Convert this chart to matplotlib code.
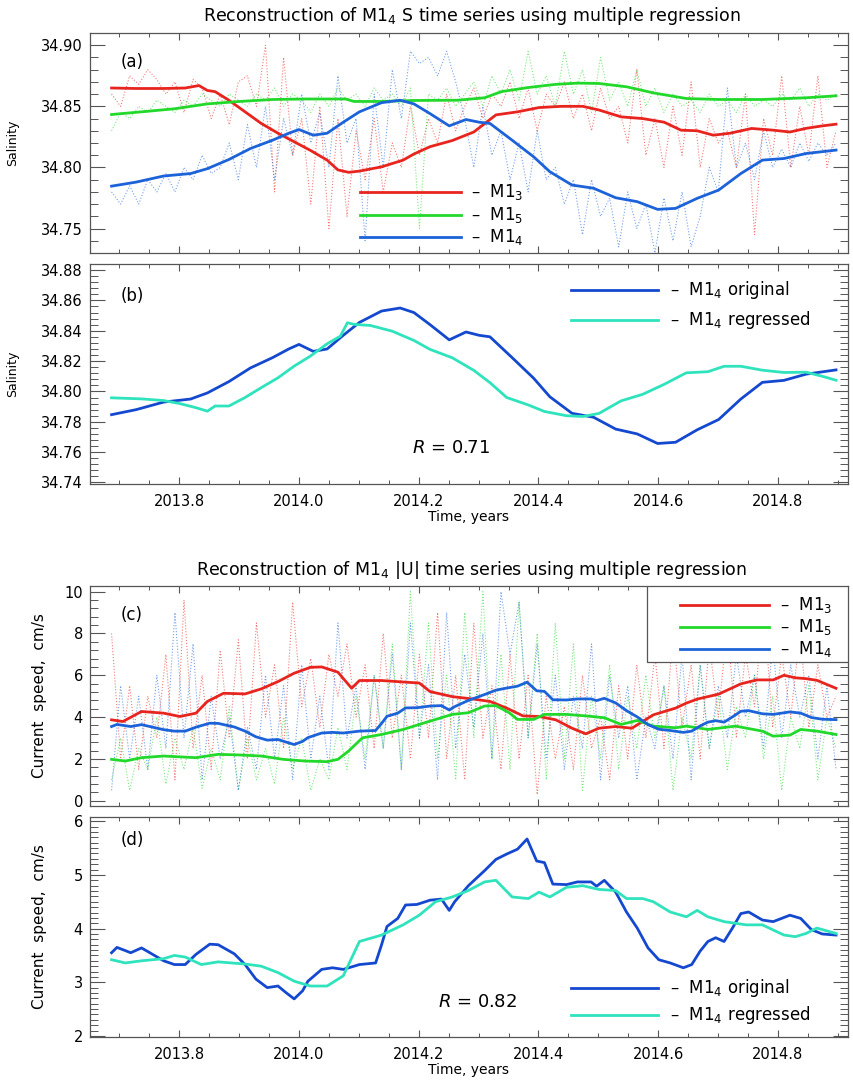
import numpy as np
import matplotlib
matplotlib.use("Agg")
import matplotlib.pyplot as plt
from matplotlib.ticker import MultipleLocator

plt.rcParams["font.family"] = ["DejaVu Sans"]

# ---------------- data ----------------
# panel (a): salinity, smoothed series
t_s_m13 = [2013.687, 2013.728, 2013.774, 2013.810, 2013.833, 2013.847, 2013.860, 2013.883, 2013.910, 2013.937,
           2013.965, 2013.992, 2014.019, 2014.047, 2014.065, 2014.083, 2014.101, 2014.138, 2014.174, 2014.192,
           2014.219, 2014.256, 2014.292, 2014.329, 2014.365, 2014.401, 2014.438, 2014.474, 2014.501, 2014.538,
           2014.574, 2014.610, 2014.638, 2014.665, 2014.692, 2014.720, 2014.756, 2014.792, 2014.820, 2014.847,
           2014.874, 2014.897]
s_m13 = [34.865, 34.8646, 34.8646, 34.865, 34.867, 34.863, 34.862, 34.855, 34.8455, 34.836,
         34.828, 34.821, 34.814, 34.806, 34.798, 34.796, 34.797, 34.8005, 34.806, 34.811,
         34.817, 34.822, 34.829, 34.843, 34.8455, 34.849, 34.850, 34.850, 34.847, 34.8414,
         34.840, 34.837, 34.8305, 34.830, 34.8264, 34.828, 34.8319, 34.8305, 34.829, 34.832,
         34.834, 34.8354]

t_s_m15 = [2013.687, 2013.737, 2013.792, 2013.847, 2013.901, 2013.956, 2014.010, 2014.078, 2014.092, 2014.138,
           2014.192, 2014.265, 2014.310, 2014.338, 2014.383, 2014.429, 2014.465, 2014.501, 2014.547, 2014.592,
           2014.647, 2014.701, 2014.774, 2014.847, 2014.897]
s_m15 = [34.8433, 34.8455, 34.848, 34.852, 34.854, 34.8556, 34.856, 34.856, 34.854, 34.854,
         34.8548, 34.855, 34.857, 34.862, 34.8654, 34.868, 34.869, 34.8687, 34.866, 34.861,
         34.8564, 34.8556, 34.8556, 34.857, 34.8586]

t_s_m14 = [2013.687, 2013.728, 2013.774, 2013.819, 2013.847, 2013.883, 2013.919, 2013.956, 2013.983, 2014.000,
           2014.024, 2014.047, 2014.074, 2014.101, 2014.138, 2014.169, 2014.192, 2014.219, 2014.251, 2014.279,
           2014.301, 2014.319, 2014.356, 2014.392, 2014.419, 2014.456, 2014.492, 2014.529, 2014.565, 2014.599,
           2014.629, 2014.665, 2014.701, 2014.738, 2014.774, 2014.810, 2014.847, 2014.897]
s_m14 = [34.7847, 34.788, 34.793, 34.795, 34.799, 34.8065, 34.8155, 34.8223, 34.828, 34.831,
         34.8264, 34.828, 34.837, 34.8455, 34.853, 34.855, 34.852, 34.844, 34.834, 34.8392,
         34.837, 34.836, 34.8223, 34.8087, 34.7965, 34.7856, 34.783, 34.7752, 34.772, 34.7657,
         34.7665, 34.7747, 34.7815, 34.795, 34.806, 34.8073, 34.8114, 34.8142]

# panel (b): regressed salinity
t_s_reg = [2013.687, 2013.737, 2013.774, 2013.801, 2013.828, 2013.847, 2013.860, 2013.883, 2013.910, 2013.937,
           2013.965, 2013.992, 2014.019, 2014.047, 2014.069, 2014.081, 2014.092, 2014.119, 2014.156, 2014.192,
           2014.219, 2014.256, 2014.292, 2014.319, 2014.347, 2014.383, 2014.410, 2014.447, 2014.474, 2014.501,
           2014.538, 2014.574, 2014.610, 2014.647, 2014.683, 2014.710, 2014.738, 2014.774, 2014.810, 2014.847,
           2014.874, 2014.897]
s_reg = [34.7958, 34.7951, 34.794, 34.792, 34.7893, 34.787, 34.7904, 34.7904, 34.796, 34.8025,
         34.809, 34.8167, 34.8233, 34.8314, 34.8364, 34.8453, 34.8442, 34.8435, 34.8397, 34.8336,
         34.8277, 34.8222, 34.8139, 34.8058, 34.796, 34.7911, 34.7868, 34.784, 34.7835, 34.7855,
         34.7938, 34.7981, 34.8047, 34.8123, 34.813, 34.8166, 34.8166, 34.814, 34.8125, 34.8127,
         34.810, 34.8074]

# raw (unsmoothed) salinity records, dotted
t_raw = np.linspace(2013.687, 2014.897, 81)
s_raw_m13 = [34.86, 34.85, 34.875, 34.868, 34.88, 34.872, 34.86, 34.87, 34.845, 34.872,
             34.865, 34.84, 34.86, 34.835, 34.87, 34.875, 34.85, 34.90, 34.78, 34.89,
             34.81, 34.84, 34.77, 34.85, 34.75, 34.84, 34.76, 34.83, 34.79, 34.84,
             34.78, 34.82, 34.80, 34.85, 34.81, 34.84, 34.82, 34.86, 34.83, 34.85,
             34.865, 34.84, 34.86, 34.85, 34.87, 34.84, 34.865, 34.83, 34.86, 34.85,
             34.87, 34.84, 34.86, 34.83, 34.865, 34.84, 34.85, 34.82, 34.88, 34.81,
             34.84, 34.80, 34.85, 34.81, 34.87, 34.80, 34.84, 34.82, 34.83, 34.80,
             34.86, 34.745, 34.84, 34.81, 34.875, 34.80, 34.85, 34.81, 34.875, 34.80, 34.83]
s_raw_m15 = [34.83, 34.845, 34.84, 34.85, 34.845, 34.855, 34.85, 34.845, 34.855, 34.85,
             34.86, 34.855, 34.85, 34.86, 34.855, 34.85, 34.86, 34.855, 34.865, 34.85,
             34.86, 34.855, 34.845, 34.86, 34.85, 34.865, 34.855, 34.86, 34.85, 34.865,
             34.855, 34.86, 34.85, 34.865, 34.75, 34.86, 34.855, 34.865, 34.85, 34.86,
             34.87, 34.85, 34.875, 34.86, 34.88, 34.855, 34.895, 34.86, 34.875, 34.85,
             34.895, 34.86, 34.88, 34.845, 34.89, 34.855, 34.87, 34.85, 34.88, 34.85,
             34.865, 34.845, 34.86, 34.85, 34.855, 34.845, 34.86, 34.85, 34.855, 34.845,
             34.86, 34.85, 34.855, 34.85, 34.86, 34.855, 34.865, 34.85, 34.86, 34.855, 34.86]
s_raw_m14 = [34.78, 34.77, 34.785, 34.77, 34.79, 34.78, 34.795, 34.78, 34.80, 34.79,
             34.81, 34.795, 34.80, 34.82, 34.79, 34.835, 34.80, 34.85, 34.79, 34.84,
             34.81, 34.86, 34.82, 34.845, 34.80, 34.875, 34.82, 34.84, 34.74, 34.86,
             34.80, 34.88, 34.84, 34.895, 34.885, 34.89, 34.875, 34.895, 34.87, 34.84,
             34.80, 34.85, 34.81, 34.83, 34.79, 34.82, 34.78, 34.83, 34.79, 34.80,
             34.77, 34.79, 34.745, 34.79, 34.76, 34.775, 34.735, 34.78, 34.75, 34.77,
             34.73, 34.775, 34.74, 34.78, 34.735, 34.76, 34.80, 34.78, 34.865, 34.80,
             34.82, 34.79, 34.83, 34.80, 34.815, 34.80, 34.82, 34.805, 34.82, 34.81, 34.82]

# panel (c): current speed, smoothed series
t_u_m13 = [2013.687, 2013.706, 2013.737, 2013.774, 2013.801, 2013.828, 2013.847, 2013.874, 2013.910, 2013.937,
           2013.965, 2013.992, 2014.019, 2014.038, 2014.065, 2014.088, 2014.101, 2014.138, 2014.174, 2014.201,
           2014.219, 2014.256, 2014.292, 2014.319, 2014.347, 2014.374, 2014.401, 2014.429, 2014.456, 2014.479,
           2014.501, 2014.529, 2014.556, 2014.592, 2014.629, 2014.647, 2014.665, 2014.701, 2014.738, 2014.765,
           2014.792, 2014.810, 2014.829, 2014.847, 2014.865, 2014.897]
u_m13 = [3.87, 3.79, 4.27, 4.19, 4.03, 4.19, 4.75, 5.14, 5.11, 5.35,
         5.70, 6.10, 6.38, 6.40, 6.15, 5.38, 5.75, 5.75, 5.68, 5.63,
         5.22, 4.98, 4.86, 4.75, 4.43, 4.06, 4.03, 3.87, 3.47, 3.20,
         3.47, 3.55, 3.47, 4.11, 4.43, 4.67, 4.86, 5.10, 5.59, 5.78,
         5.78, 6.00, 5.88, 5.84, 5.76, 5.38]

t_u_m15 = [2013.687, 2013.710, 2013.737, 2013.774, 2013.828, 2013.865, 2013.901, 2013.937, 2013.974, 2014.010,
           2014.047, 2014.065, 2014.083, 2014.106, 2014.138, 2014.174, 2014.210, 2014.256, 2014.283, 2014.310,
           2014.329, 2014.351, 2014.365, 2014.392, 2014.410, 2014.447, 2014.483, 2014.510, 2014.538, 2014.565,
           2014.592, 2014.629, 2014.647, 2014.683, 2014.729, 2014.774, 2014.792, 2014.820, 2014.838, 2014.865,
           2014.897]
u_m15 = [1.98, 1.90, 2.06, 2.14, 2.06, 2.22, 2.19, 2.14, 1.98, 1.90,
         1.87, 1.98, 2.38, 3.01, 3.17, 3.41, 3.73, 4.13, 4.21, 4.53,
         4.55, 4.21, 3.89, 3.89, 4.13, 4.13, 4.05, 3.97, 3.65, 3.84,
         3.57, 3.49, 3.57, 3.41, 3.57, 3.33, 3.09, 3.14, 3.41, 3.33,
         3.17]

t_u_m14 = [2013.687, 2013.696, 2013.710, 2013.719, 2013.737, 2013.751, 2013.774, 2013.792, 2013.810, 2013.828,
           2013.851, 2013.865, 2013.892, 2013.910, 2013.928, 2013.947, 2013.965, 2013.978, 2013.992, 2014.006,
           2014.015, 2014.038, 2014.056, 2014.074, 2014.101, 2014.128, 2014.138, 2014.147, 2014.165, 2014.178,
           2014.197, 2014.219, 2014.238, 2014.251, 2014.260, 2014.283, 2014.310, 2014.329, 2014.347, 2014.365,
           2014.381, 2014.397, 2014.410, 2014.424, 2014.447, 2014.465, 2014.488, 2014.497, 2014.510, 2014.529,
           2014.547, 2014.565, 2014.583, 2014.601, 2014.620, 2014.642, 2014.656, 2014.670, 2014.683, 2014.696,
           2014.710, 2014.724, 2014.738, 2014.751, 2014.774, 2014.792, 2014.820, 2014.838, 2014.856, 2014.874,
           2014.897]
u_m14 = [3.55, 3.65, 3.59, 3.55, 3.64, 3.55, 3.40, 3.33, 3.33, 3.52,
         3.71, 3.70, 3.53, 3.33, 3.06, 2.90, 2.93, 2.81, 2.69, 2.84,
         3.02, 3.24, 3.27, 3.24, 3.33, 3.36, 3.70, 4.04, 4.19, 4.44,
         4.45, 4.53, 4.55, 4.34, 4.50, 4.80, 5.08, 5.29, 5.39, 5.48,
         5.67, 5.26, 5.23, 4.83, 4.82, 4.87, 4.87, 4.79, 4.90, 4.68,
         4.31, 4.01, 3.64, 3.42, 3.36, 3.27, 3.33, 3.58, 3.76, 3.83,
         3.76, 4.01, 4.28, 4.31, 4.16, 4.13, 4.25, 4.19, 3.98, 3.90,
         3.88]

# panel (d): regressed current speed
t_u_reg = [2013.687, 2013.710, 2013.737, 2013.774, 2013.792, 2013.810, 2013.837, 2013.865, 2013.910, 2013.937,
           2013.965, 2013.992, 2014.019, 2014.047, 2014.074, 2014.101, 2014.138, 2014.174, 2014.201, 2014.228,
           2014.256, 2014.283, 2014.310, 2014.329, 2014.356, 2014.383, 2014.401, 2014.419, 2014.447, 2014.474,
           2014.501, 2014.529, 2014.547, 2014.574, 2014.592, 2014.620, 2014.647, 2014.665, 2014.683, 2014.710,
           2014.747, 2014.774, 2014.810, 2014.829, 2014.847, 2014.865, 2014.897]
u_reg = [3.42, 3.36, 3.40, 3.44, 3.50, 3.47, 3.33, 3.38, 3.34, 3.30,
         3.18, 3.02, 2.93, 2.93, 3.12, 3.76, 3.88, 4.07, 4.25, 4.50,
         4.59, 4.71, 4.87, 4.90, 4.59, 4.56, 4.68, 4.59, 4.77, 4.80,
         4.73, 4.71, 4.56, 4.56, 4.50, 4.31, 4.22, 4.34, 4.22, 4.13,
         4.07, 4.07, 3.88, 3.85, 3.91, 4.01, 3.91]

# raw current speed records, dotted
u_raw_m13 = [8.0, 2.0, 5.5, 1.5, 5.0, 3.0, 7.0, 1.0, 9.6, 2.5,
             6.0, 1.5, 7.2, 3.0, 7.7, 2.0, 8.5, 4.0, 6.5, 2.5,
             9.5, 4.5, 6.8, 3.5, 7.0, 5.0, 7.5, 4.0, 6.5, 2.5,
             8.0, 3.0, 6.0, 2.0, 7.0, 3.0, 9.0, 2.0, 6.0, 1.0,
             8.5, 3.0, 5.5, 1.5, 7.0, 2.0, 6.0, 0.3, 5.0, 2.0,
             4.5, 1.5, 6.0, 2.5, 4.0, 1.0, 5.5, 2.0, 6.5, 3.0,
             7.0, 2.5, 8.0, 3.5, 6.5, 2.0, 7.5, 4.0, 8.5, 3.0,
             7.0, 4.5, 9.5, 3.5, 7.0, 4.0, 8.0, 3.5, 6.5, 4.0, 5.0]
u_raw_m15 = [1.0, 3.0, 0.5, 2.5, 1.5, 4.0, 0.8, 3.0, 1.5, 3.5,
             0.6, 2.5, 1.0, 4.5, 0.5, 3.0, 1.0, 2.5, 0.8, 4.0,
             1.5, 3.0, 0.5, 2.0, 1.0, 3.5, 1.5, 5.0, 2.0, 6.0,
             2.5, 7.5, 1.5, 10.0, 3.0, 8.5, 2.0, 6.0, 1.0, 9.0,
             3.0, 10.0, 2.0, 7.0, 1.5, 9.5, 3.0, 8.0, 1.0, 8.5,
             2.0, 7.5, 0.5, 5.0, 2.0, 6.5, 1.5, 5.0, 2.5, 6.0,
             3.0, 5.5, 0.5, 4.0, 2.0, 6.5, 2.5, 5.0, 1.5, 4.5,
             3.0, 6.0, 2.0, 5.0, 0.5, 4.0, 2.5, 5.5, 1.0, 4.0, 2.5]
u_raw_m14 = [0.5, 5.5, 2.0, 5.0, 1.5, 6.0, 2.5, 9.0, 3.0, 7.5,
             1.0, 5.0, 2.0, 4.0, 0.5, 3.5, 1.5, 6.0, 2.0, 5.5,
             1.0, 6.5, 2.0, 5.0, 1.5, 8.5, 3.0, 5.5, 1.5, 6.0,
             2.5, 7.0, 1.5, 8.5, 3.0, 6.5, 1.0, 9.0, 2.5, 7.0,
             3.5, 8.0, 2.0, 10.0, 7.0, 9.5, 3.0, 7.5, 2.0, 6.0,
             1.5, 5.0, 2.5, 7.5, 1.0, 6.0, 3.0, 5.5, 1.0, 4.0,
             2.5, 5.5, 2.0, 7.0, 1.0, 6.5, 2.5, 5.5, 3.0, 7.0,
             4.0, 6.0, 2.5, 7.5, 3.0, 6.5, 4.0, 6.0, 2.0, 5.5, 1.5]

# ---------------- styling ----------------
RED = "#e8241f"
GREEN = "#22d82a"
BLUE = "#1c62d8"
ORIG = "#1448cf"
REGR = "#2fe3bd"
FRAME = "#555555"

W, H = 854, 1084
fig = plt.figure(figsize=(W / 100, H / 100), dpi=100)


def box(left, top, right, bottom):
    return [left / W, 1 - bottom / H, (right - left) / W, (bottom - top) / H]


ax_a = fig.add_axes(box(90, 33, 848, 253))
ax_b = fig.add_axes(box(90, 264, 848, 484))
ax_c = fig.add_axes(box(90, 586, 848, 806))
ax_d = fig.add_axes(box(90, 817, 848, 1037))

for ax in (ax_a, ax_b, ax_c, ax_d):
    ax.set_xlim(2013.651, 2014.917)
    ax.xaxis.set_major_locator(MultipleLocator(0.2))
    ax.xaxis.set_minor_locator(MultipleLocator(0.05))
    ax.tick_params(axis="x", which="both", direction="in", top=True, bottom=True,
                   colors=FRAME, labelcolor="black", labelsize=10.5, pad=7)
    ax.tick_params(axis="x", which="major", length=5, width=0.8)
    ax.tick_params(axis="x", which="minor", length=3, width=0.7)
    ax.tick_params(axis="y", which="both", direction="in", left=True, right=True,
                   colors=FRAME, labelcolor="black", labelsize=10.5, pad=5)
    ax.tick_params(axis="y", which="major", length=11, width=0.8)
    ax.tick_params(axis="y", which="minor", length=6, width=0.7)
    for sp in ax.spines.values():
        sp.set_color(FRAME)
        sp.set_linewidth(0.9)

for ax in (ax_a, ax_c):
    ax.tick_params(axis="x", labelbottom=False)

# ----- (a)
ax_a.plot(t_raw, s_raw_m13, ls=":", lw=0.8, color=RED, alpha=0.6)
ax_a.plot(t_raw, s_raw_m15, ls=":", lw=0.8, color=GREEN, alpha=0.6)
ax_a.plot(t_raw, s_raw_m14, ls=":", lw=0.8, color=BLUE, alpha=0.6)
ax_a.plot(t_s_m13, s_m13, color=RED, lw=2)
ax_a.plot(t_s_m15, s_m15, color=GREEN, lw=2)
ax_a.plot(t_s_m14, s_m14, color=BLUE, lw=2)
ax_a.set_ylim(34.730, 34.910)
ax_a.yaxis.set_major_locator(MultipleLocator(0.05))
ax_a.yaxis.set_minor_locator(MultipleLocator(0.01))
ax_a.yaxis.set_major_formatter(plt.FormatStrFormatter("%.2f"))
ax_a.set_ylabel("Salinity", fontsize=9)
ax_a.yaxis.set_label_coords(-0.093, 0.5)
ax_a.text(0.04, 0.87, "(a)", transform=ax_a.transAxes, fontsize=12, va="center")
for y, c, lab in [(0.277, RED, "3"), (0.173, GREEN, "5"), (0.073, BLUE, "4")]:
    ax_a.plot([0.356, 0.489], [y, y], color=c, lw=2, transform=ax_a.transAxes)
    ax_a.text(0.503, y, "\u2013  M1$_{%s}$" % lab, transform=ax_a.transAxes,
              fontsize=12, va="center")

# ----- (b)
ax_b.plot(t_s_m14, s_m14, color=ORIG, lw=2)
ax_b.plot(t_s_reg, s_reg, color=REGR, lw=2)
ax_b.set_ylim(34.739, 34.884)
ax_b.yaxis.set_major_locator(MultipleLocator(0.02))
ax_b.yaxis.set_minor_locator(MultipleLocator(0.004))
ax_b.yaxis.set_major_formatter(plt.FormatStrFormatter("%.2f"))
ax_b.set_ylabel("Salinity", fontsize=9)
ax_b.yaxis.set_label_coords(-0.093, 0.5)
ax_b.set_xlabel("Time, years", fontsize=10, labelpad=1)
ax_b.text(0.04, 0.853, "(b)", transform=ax_b.transAxes, fontsize=12, va="center")
for y, c, lab in [(0.883, ORIG, "original"), (0.744, REGR, "regressed")]:
    ax_b.plot([0.634, 0.749], [y, y], color=c, lw=2, transform=ax_b.transAxes)
    ax_b.text(0.765, y, "\u2013  M1$_4$ " + lab, transform=ax_b.transAxes,
              fontsize=12, va="center")
ax_b.text(0.476, 0.165, "$R$ = 0.71", transform=ax_b.transAxes, fontsize=13,
          ha="center", va="center")

# ----- (c)
ax_c.plot(t_raw, u_raw_m13, ls=":", lw=0.8, color=RED, alpha=0.6)
ax_c.plot(t_raw, u_raw_m15, ls=":", lw=0.8, color=GREEN, alpha=0.6)
ax_c.plot(t_raw, u_raw_m14, ls=":", lw=0.8, color=BLUE, alpha=0.6)
ax_c.plot(t_u_m13, u_m13, color=RED, lw=2)
ax_c.plot(t_u_m15, u_m15, color=GREEN, lw=2)
ax_c.plot(t_u_m14, u_m14, color=BLUE, lw=2)
ax_c.set_ylim(-0.25, 10.27)
ax_c.yaxis.set_major_locator(MultipleLocator(2))
ax_c.yaxis.set_minor_locator(MultipleLocator(0.4))
ax_c.set_ylabel("Current  speed,  cm/s", fontsize=11)
ax_c.yaxis.set_label_coords(-0.057, 0.5)
ax_c.text(0.04, 0.868, "(c)", transform=ax_c.transAxes, fontsize=12, va="center")
ax_c.add_patch(plt.Rectangle((0.735, 0.656), 0.265, 0.344, transform=ax_c.transAxes,
                             facecolor="white", edgecolor=FRAME, lw=0.9, zorder=3))
for y, c, lab in [(0.914, RED, "3"), (0.812, GREEN, "5"), (0.712, BLUE, "4")]:
    ax_c.plot([0.778, 0.896], [y, y], color=c, lw=2, transform=ax_c.transAxes, zorder=4)
    ax_c.text(0.91, y, "\u2013  M1$_{%s}$" % lab, transform=ax_c.transAxes,
              fontsize=12, va="center", zorder=4)

# ----- (d)
ax_d.plot(t_u_m14, u_m14, color=ORIG, lw=2)
ax_d.plot(t_u_reg, u_reg, color=REGR, lw=2)
ax_d.set_ylim(1.98, 6.08)
ax_d.yaxis.set_major_locator(MultipleLocator(1))
ax_d.yaxis.set_minor_locator(MultipleLocator(0.1))
ax_d.set_ylabel("Current  speed,  cm/s", fontsize=11)
ax_d.yaxis.set_label_coords(-0.057, 0.5)
ax_d.set_xlabel("Time, years", fontsize=10, labelpad=1)
ax_d.text(0.04, 0.895, "(d)", transform=ax_d.transAxes, fontsize=12, va="center")
for y, c, lab in [(0.222, ORIG, "original"), (0.10, REGR, "regressed")]:
    ax_d.plot([0.634, 0.749], [y, y], color=c, lw=2, transform=ax_d.transAxes)
    ax_d.text(0.765, y, "\u2013  M1$_4$ " + lab, transform=ax_d.transAxes,
              fontsize=12, va="center")
ax_d.text(0.511, 0.16, "$R$ = 0.82", transform=ax_d.transAxes, fontsize=13,
          ha="center", va="center")

fig.text(0.552, 1 - 16 / H, "Reconstruction of M1$_4$ S time series using multiple regression",
         ha="center", va="center", fontsize=12.5)
fig.text(0.552, 1 - 570 / H, "Reconstruction of M1$_4$ |U| time series using multiple regression",
         ha="center", va="center", fontsize=12.5)

fig.savefig("out.png", dpi=100)
